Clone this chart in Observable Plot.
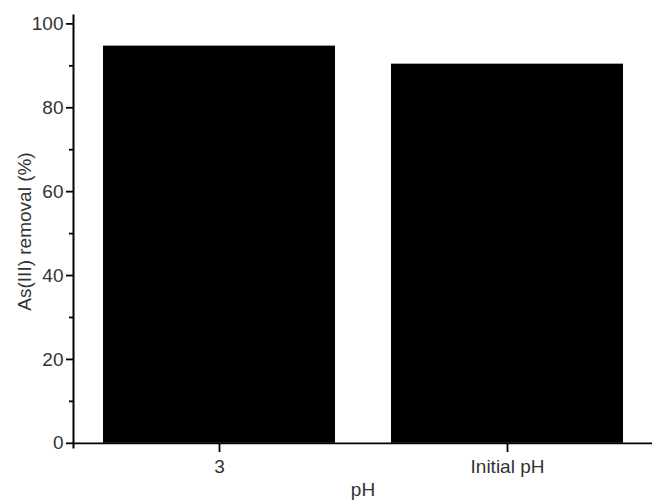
<!DOCTYPE html>
<html>
<head>
<meta charset="utf-8">
<script src="https://cdn.jsdelivr.net/npm/d3@7"></script>
<script src="https://cdn.jsdelivr.net/npm/@observablehq/plot@0.6"></script>
<style>
  html, body { margin: 0; padding: 0; background: #fff; }
  #chart svg { display: block; }
</style>
</head>
<body>
<div id="chart"></div>
<script>
const categories = ["3", "Initial pH"];
const removal = [94.7, 90.4];
const majorTicks = [0, 20, 40, 60, 80, 100];
const minorTicks = [10, 30, 50, 70, 90];
const yTitle = "As(III) removal (%)";
const xTitle = "pH";

const data = categories.map((c, i) => ({cat: c, value: removal[i]}));
const font = "'Liberation Sans', Arial, Helvetica, sans-serif";
const textColor = "#333";

const chart = Plot.plot({
  width: 652,
  height: 500,
  marginLeft: 73,
  marginRight: 0,
  marginTop: 15,
  marginBottom: 53,
  style: {fontFamily: font, background: "#fff"},
  x: {domain: categories, paddingInner: 0.193, paddingOuter: 0.0996, align: 0.52},
  y: {domain: [-1, 102]},
  marks: [
    Plot.barY(data, {x: "cat", y: "value", fill: "black"}),
    Plot.ruleY([0], {stroke: "black", strokeWidth: 1.8}),
    Plot.frame({anchor: "left", stroke: "black", strokeWidth: 2}),
    Plot.axisY({ticks: majorTicks, tickSize: 7, tickPadding: 3, fontSize: 19, label: null, strokeWidth: 1.8, color: textColor, stroke: "black"}),
    Plot.axisY({ticks: minorTicks, tickSize: 4, tickFormat: () => "", label: null, strokeWidth: 1.8, stroke: "black"}),
    Plot.axisX({tickSize: 9, tickPadding: 7, dy: -4, fontSize: 19, label: null, strokeWidth: 1.8, color: textColor, stroke: "black"}),
    Plot.text([yTitle], {frameAnchor: "left", rotate: -90, dx: -43, lineAnchor: "bottom", textAnchor: "middle", fontSize: 19, fill: textColor}),
    Plot.text([xTitle], {frameAnchor: "bottom", dy: 48, lineAnchor: "bottom", textAnchor: "middle", fontSize: 19, fill: textColor})
  ]
});
document.getElementById("chart").appendChild(chart);
</script>
</body>
</html>
